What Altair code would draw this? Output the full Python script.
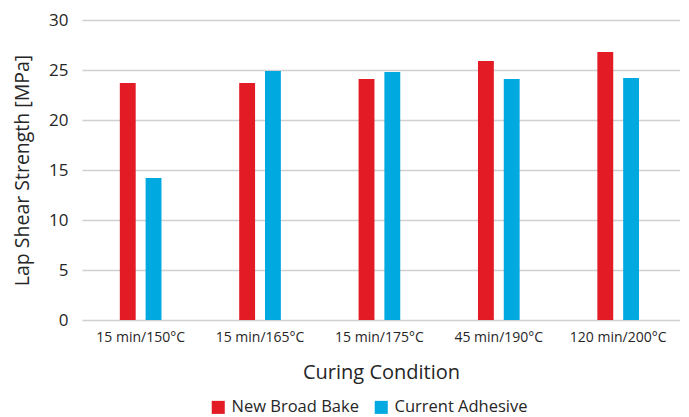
import altair as alt
import pandas as pd

categories = ["15 min/150°C", "15 min/165°C", "15 min/175°C", "45 min/190°C", "120 min/200°C"]
series_names = ["New Broad Bake", "Current Adhesive"]
new_broad_bake = [23.7, 23.7, 24.1, 25.9, 26.8]
current_adhesive = [14.2, 24.9, 24.8, 24.1, 24.2]
y_ticks = [0, 5, 10, 15, 20, 25, 30]

rows = []
for c, a, b in zip(categories, new_broad_bake, current_adhesive):
    rows.append({"cond": c, "series": series_names[0], "value": a})
    rows.append({"cond": c, "series": series_names[1], "value": b})
df = pd.DataFrame(rows)

FONT = "Open Sans"
TXT = "#262626"

chart = alt.Chart(df).mark_bar().encode(
    x=alt.X("cond:N", sort=categories,
            scale=alt.Scale(paddingInner=0.651, paddingOuter=0.33, align=0.48),
            axis=alt.Axis(title="Curing Condition", labelAngle=0, labelFontSize=14,
                          labelColor=TXT, titleFontSize=20, titleColor=TXT,
                          titleFontWeight="normal", titlePadding=18, labelPadding=10,
                          domain=False, ticks=False, labelFont=FONT, titleFont=FONT)),
    xOffset=alt.XOffset("series:N", sort=series_names,
                        scale=alt.Scale(paddingInner=0.385, paddingOuter=0)),
    y=alt.Y("value:Q", scale=alt.Scale(domain=[0, 30], nice=False),
            axis=alt.Axis(title="Lap Shear Strength [MPa]", values=y_ticks,
                          labelFontSize=17, labelColor=TXT, titleFontSize=19.5,
                          titleColor=TXT, titleFontWeight="normal", titlePadding=16,
                          labelPadding=14, domain=False, ticks=False,
                          gridColor="#D0D0D0", gridWidth=1.5,
                          labelFont=FONT, titleFont=FONT)),
    color=alt.Color("series:N", sort=series_names,
                    scale=alt.Scale(domain=series_names, range=["#E21B24", "#00A9E0"]),
                    legend=alt.Legend(title=None, orient="none", direction="horizontal",
                                      legendX=128, legendY=379,
                                      symbolType="square", symbolSize=170,
                                      symbolStrokeWidth=0, labelFontSize=16.5,
                                      labelColor=TXT, labelFont=FONT, columnPadding=14,
                                      labelOffset=5)),
).properties(
    width=598, height=300,
    padding={"left": 4, "top": 3, "right": 0, "bottom": 0},
).configure_view(stroke=None).configure_axis(labelFont=FONT, titleFont=FONT)

chart.save("out.html", embed_options={"renderer": "svg", "actions": False})
